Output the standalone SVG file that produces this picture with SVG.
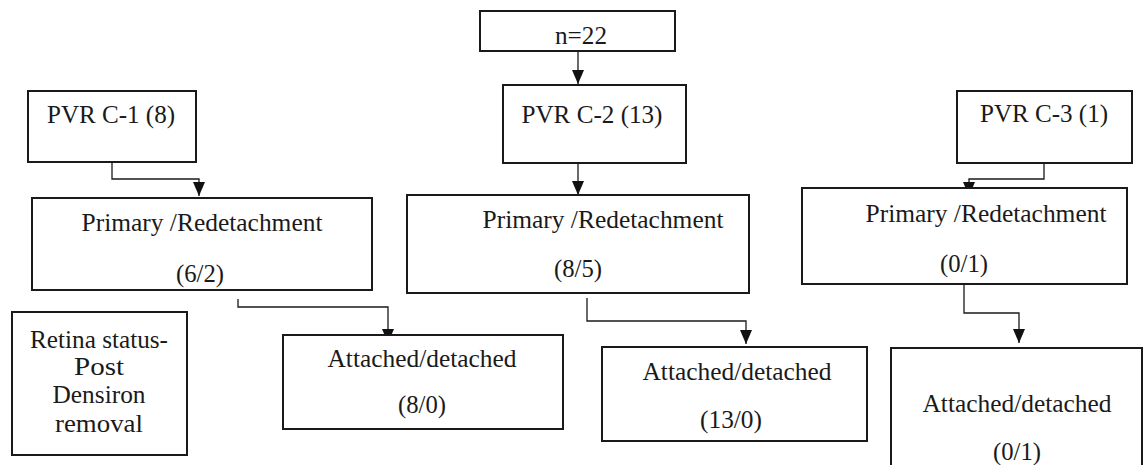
<svg xmlns="http://www.w3.org/2000/svg" width="1143" height="465" viewBox="0 0 1143 465" font-family="Liberation Serif, DejaVu Serif, serif">
  <style>
    .box { fill: #ffffff; stroke: #1a1a1a; stroke-width: 2; }
    text { font-family: "Liberation Serif", "DejaVu Serif", serif; font-size: 25px; fill: #1a1a1a; text-anchor: middle; }
    .wire { fill: none; stroke: #1a1a1a; stroke-width: 1.3; }
  </style>
  <defs>
    <marker id="arrow" markerUnits="userSpaceOnUse" viewBox="0 0 14 12" refX="14" refY="6" markerWidth="14" markerHeight="12" orient="auto">
      <path d="M0,0 L14,6 L0,12 z" fill="#111111"/>
    </marker>
  </defs>
  <rect width="1143" height="465" fill="#ffffff"/>

  <!-- connectors -->
  <g id="connectors">
    <path class="wire" d="M578,51 V84" marker-end="url(#arrow)"/>
    <path class="wire" d="M112,162 V179 H199 V196" marker-end="url(#arrow)"/>
    <path class="wire" d="M578,163 V195" marker-end="url(#arrow)"/>
    <path class="wire" d="M1044,163 V179 H969 V196" marker-end="url(#arrow)"/>
    <path class="wire" d="M238,299 V307 H388 V343" marker-end="url(#arrow)"/>
    <path class="wire" d="M587,298 V321 H746 V344" marker-end="url(#arrow)"/>
    <path class="wire" d="M964,284 V313 H1019 V343" marker-end="url(#arrow)"/>
  </g>

  <!-- total -->
  <g id="total">
    <rect class="box" x="480" y="11" width="195" height="40"/>
    <text x="581" y="44" textLength="52" lengthAdjust="spacingAndGlyphs">n=22</text>
  </g>

  <!-- PVR grades -->
  <g id="pvr-c1">
    <rect class="box" x="28" y="91" width="168" height="71"/>
    <text x="111" y="123" textLength="128" lengthAdjust="spacingAndGlyphs">PVR C-1 (8)</text>
  </g>
  <g id="pvr-c2">
    <rect class="box" x="503" y="85" width="183" height="78"/>
    <text x="592" y="123" textLength="141" lengthAdjust="spacingAndGlyphs">PVR C-2 (13)</text>
  </g>
  <g id="pvr-c3">
    <rect class="box" x="957" y="91" width="175" height="72"/>
    <text x="1044" y="122" textLength="128" lengthAdjust="spacingAndGlyphs">PVR C-3 (1)</text>
  </g>

  <!-- primary / redetachment -->
  <g id="type-c1">
    <rect class="box" x="32" y="198" width="340" height="92"/>
    <text x="202" y="231" textLength="241" lengthAdjust="spacingAndGlyphs">Primary /Redetachment</text>
    <text x="200" y="282" textLength="48" lengthAdjust="spacingAndGlyphs">(6/2)</text>
  </g>
  <g id="type-c2">
    <rect class="box" x="407" y="195" width="342" height="98"/>
    <text x="603" y="228" textLength="241" lengthAdjust="spacingAndGlyphs">Primary /Redetachment</text>
    <text x="578" y="277" textLength="48" lengthAdjust="spacingAndGlyphs">(8/5)</text>
  </g>
  <g id="type-c3">
    <rect class="box" x="802" y="188" width="325" height="96"/>
    <text x="986" y="222" textLength="241" lengthAdjust="spacingAndGlyphs">Primary /Redetachment</text>
    <text x="964" y="272" textLength="48" lengthAdjust="spacingAndGlyphs">(0/1)</text>
  </g>

  <!-- legend -->
  <g id="retina-status">
    <rect class="box" x="12" y="312" width="175" height="143"/>
    <text x="99" y="348" textLength="138" lengthAdjust="spacingAndGlyphs">Retina status-</text>
    <text x="99" y="375" textLength="50" lengthAdjust="spacingAndGlyphs">Post</text>
    <text x="99" y="403" textLength="93" lengthAdjust="spacingAndGlyphs">Densiron</text>
    <text x="99" y="432" textLength="88" lengthAdjust="spacingAndGlyphs">removal</text>
  </g>

  <!-- outcome -->
  <g id="outcome-c1">
    <rect class="box" x="283" y="335" width="280" height="94"/>
    <text x="422" y="367" textLength="189" lengthAdjust="spacingAndGlyphs">Attached/detached</text>
    <text x="422" y="413" textLength="48" lengthAdjust="spacingAndGlyphs">(8/0)</text>
  </g>
  <g id="outcome-c2">
    <rect class="box" x="602" y="347" width="265" height="94"/>
    <text x="737" y="380" textLength="189" lengthAdjust="spacingAndGlyphs">Attached/detached</text>
    <text x="731" y="428" textLength="62" lengthAdjust="spacingAndGlyphs">(13/0)</text>
  </g>
  <g id="outcome-c3">
    <rect class="box" x="891" y="348" width="251" height="130"/>
    <text x="1017" y="412" textLength="189" lengthAdjust="spacingAndGlyphs">Attached/detached</text>
    <text x="1017" y="460" textLength="48" lengthAdjust="spacingAndGlyphs">(0/1)</text>
  </g>
</svg>
